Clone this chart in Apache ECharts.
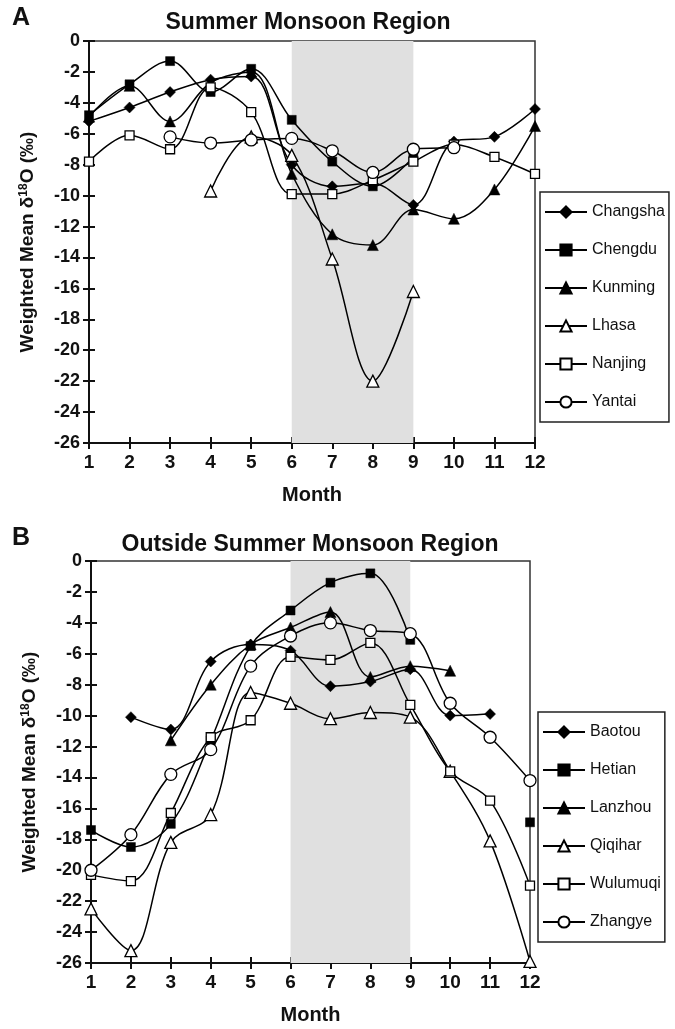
<!DOCTYPE html>
<html>
<head>
<meta charset="utf-8">
<script src="https://cdn.jsdelivr.net/npm/echarts@6/dist/echarts.min.js"></script>
<style>
html,body{margin:0;padding:0;background:#fff;}
#chart{width:675px;height:1029px;}
</style>
</head>
<body>
<div id="chart"></div>
<script>
// ---- data ----
const months = [1,2,3,4,5,6,7,8,9,10,11,12];
const yTicksMin = -26, yTicksMax = 0, yTickStep = 2;

// Panel A: Summer Monsoon Region
const namesA = ['Changsha','Chengdu','Kunming','Lhasa','Nanjing','Yantai'];
const changsha = [-5.2, -4.3, -3.3, -2.5, -2.3, -8.0, -9.4, -9.2, -10.6, -6.5, -6.2, -4.4];
const chengdu  = [-4.8, -2.8, -1.3, -3.3, -1.8, -5.1, -7.8, -9.4, -7.5, null, null, null];
const kunming  = [-4.9, -2.9, -5.2, -2.7, -2.0, -8.6, -12.5, -13.2, -10.9, -11.5, -9.6, -5.5];
const lhasa    = [null, null, null, -9.7, -6.2, -7.4, -14.1, -22.0, -16.2, null, null, null];
const nanjing  = [-7.8, -6.1, -7.0, -3.0, -4.6, -9.9, -9.9, -9.0, -7.8, -6.7, -7.5, -8.6];
const yantai   = [null, null, -6.2, -6.6, -6.4, -6.3, -7.1, -8.5, -7.0, -6.9, null, null];

// Panel B: Outside Summer Monsoon Region
const namesB = ['Baotou','Hetian','Lanzhou','Qiqihar','Wulumuqi','Zhangye'];
const baotou   = [null, -10.1, -10.9, -6.5, -5.4, -5.8, -8.1, -7.8, -7.0, -10.0, -9.9, null];
const hetian   = [-17.4, -18.5, -17.0, -11.6, -5.5, -3.2, -1.4, -0.8, -5.1, null, null, -16.9];
const lanzhou  = [null, null, -11.6, -8.0, -5.4, -4.3, -3.3, -7.5, -6.8, -7.1, null, null];
const qiqihar  = [-22.5, -25.2, -18.2, -16.4, -8.5, -9.2, -10.2, -9.8, -10.1, -13.6, -18.1, -25.9];
const wulumuqi = [-20.3, -20.7, -16.3, -11.4, -10.3, -6.2, -6.4, -5.3, -9.3, -13.6, -15.5, -21.0];
const zhangye  = [-20.0, -17.7, -13.8, -12.2, -6.8, -4.85, -4.0, -4.5, -4.7, -9.2, -11.4, -14.2];

const shadeFrom = 6, shadeTo = 9;

// ---- styling ----
const FONT = "'Liberation Sans', Arial, Helvetica, sans-serif";
const markers = [
  {symbol:'diamond', size:11, fill:'#000'},
  {symbol:'rect', size:9, fill:'#000'},
  {symbol:'triangle', size:11, fill:'#000'},
  {symbol:'triangle', size:12, fill:'#fff'},
  {symbol:'rect', size:9, fill:'#fff'},
  {symbol:'circle', size:12, fill:'#fff'}
];

function pairs(arr){ return months.map((m,i)=>[m, arr[i]]); }

function makeSeries(name, arr, idx, gridIdx){
  const mk = markers[idx];
  const s = {
    name: name, type:'line', xAxisIndex: gridIdx, yAxisIndex: gridIdx,
    data: pairs(arr), smooth: 0.35, connectNulls:false,
    symbol: mk.symbol, symbolSize: mk.size, showSymbol:true, showAllSymbol:true,
    lineStyle:{color:'#000', width:1.5},
    itemStyle:{color: mk.fill, borderColor:'#000', borderWidth: mk.fill==='#fff'?1.3:0.5},
    emphasis:{disabled:true}, animation:false, z: 3
  };
  if (idx===0){
    s.markArea = {silent:true, itemStyle:{color:'#e0e0e0'}, data:[[{xAxis:shadeFrom},{xAxis:shadeTo}]], z:1};
  }
  return s;
}

const seriesA = [changsha, chengdu, kunming, lhasa, nanjing, yantai].map((a,i)=>makeSeries(namesA[i], a, i, 0));
const seriesB = [baotou, hetian, lanzhou, qiqihar, wulumuqi, zhangye].map((a,i)=>makeSeries(namesB[i], a, i, 1));

const gridRects = [
  {left:89, right:140, top:41, bottom:586},
  {left:91, right:145, top:561, bottom:66}
];
const W = 675, H = 1029;

const tickStyle = {color:'#111', width:2};
// main axes (grid 0, 1) with outward ticks, companion axes (grid 2, 3) with inward ticks
function xAxisMain(g){
  return {type:'value', gridIndex:g, min:1, max:12, interval:1, position:'bottom', splitLine:{show:false},
    name:'Month', nameLocation:'middle', nameGap:42,
    nameTextStyle:{fontFamily:FONT, fontWeight:'bold', fontSize:20, color:'#111'},
    axisLine:{show:true, onZero:false, lineStyle:{color:'#111', width:2}},
    axisTick:{show:true, inside:false, length:6, lineStyle:tickStyle},
    axisLabel:{fontFamily:FONT, fontWeight:'bold', fontSize:19, color:'#111', margin:10}};
}
function xAxisComp(g){
  return {type:'value', gridIndex:g, min:1, max:12, interval:1, position:'bottom', splitLine:{show:false},
    axisLine:{show:false, onZero:false}, axisTick:{show:true, inside:true, length:6, lineStyle:tickStyle}, axisLabel:{show:false}};
}
function yAxisMain(g){
  return {type:'value', gridIndex:g, min:yTicksMin, max:yTicksMax, interval:yTickStep, position:'left', splitLine:{show:false},
    name:'{a|Weighted Mean δ}{s|18}{a|O (‰)}', nameLocation:'middle', nameGap:52, nameRotate:90,
    nameTextStyle:{rich:{
      a:{fontFamily:FONT, fontWeight:'bold', fontSize:19, color:'#111'},
      s:{fontFamily:FONT, fontWeight:'bold', fontSize:12, color:'#111', verticalAlign:'top'}
    }},
    axisLine:{show:true, onZero:false, lineStyle:{color:'#111', width:2}},
    axisTick:{show:true, inside:false, length:6, lineStyle:tickStyle},
    axisLabel:{fontFamily:FONT, fontWeight:'bold', fontSize:18, color:'#111', margin:9}};
}
function yAxisComp(g){
  return {type:'value', gridIndex:g, min:yTicksMin, max:yTicksMax, interval:yTickStep, position:'left', splitLine:{show:false},
    axisLine:{show:false, onZero:false}, axisTick:{show:true, inside:true, length:6, lineStyle:tickStyle}, axisLabel:{show:false}};
}

function legend(names, top, left){
  return {
    data: names, orient:'vertical', left:left, top:top,
    itemWidth:42, itemHeight:14, itemGap:22,
    padding:[12, 4, 12, 4],
    borderColor:'#222', borderWidth:1.5, backgroundColor:'#fff',
    textStyle:{fontFamily:FONT, fontSize:16, color:'#111'},
    selectedMode:false
  };
}

const grids = gridRects.map(g=>Object.assign({show:true, borderColor:'#333', borderWidth:1.5, backgroundColor:'transparent'}, g))
  .concat(gridRects.map(g=>Object.assign({show:false}, g)));

const chart = echarts.init(document.getElementById('chart'), null, {renderer:'canvas', width:W, height:H});
chart.setOption({
  animation:false,
  backgroundColor:'#fff',
  grid: grids,
  xAxis: [xAxisMain(0), xAxisMain(1), xAxisComp(2), xAxisComp(3)],
  yAxis: [yAxisMain(0), yAxisMain(1), yAxisComp(2), yAxisComp(3)],
  legend: [legend(namesA, 192, 540), legend(namesB, 712, 538)],
  series: seriesA.concat(seriesB),
  graphic: [
    {type:'text', left:12, top:6, style:{text:'A', fontFamily:FONT, fontWeight:'bold', fontSize:25, fill:'#111'}},
    {type:'text', left:12, top:526, style:{text:'B', fontFamily:FONT, fontWeight:'bold', fontSize:25, fill:'#111'}},
    {type:'text', x:308, y:23, style:{text:'Summer Monsoon Region', fontFamily:FONT, fontWeight:'bold', fontSize:23, fill:'#111', align:'center', verticalAlign:'middle'}},
    {type:'text', x:310, y:545, style:{text:'Outside Summer Monsoon Region', fontFamily:FONT, fontWeight:'bold', fontSize:23, fill:'#111', align:'center', verticalAlign:'middle'}}
  ]
});
</script>
</body>
</html>
